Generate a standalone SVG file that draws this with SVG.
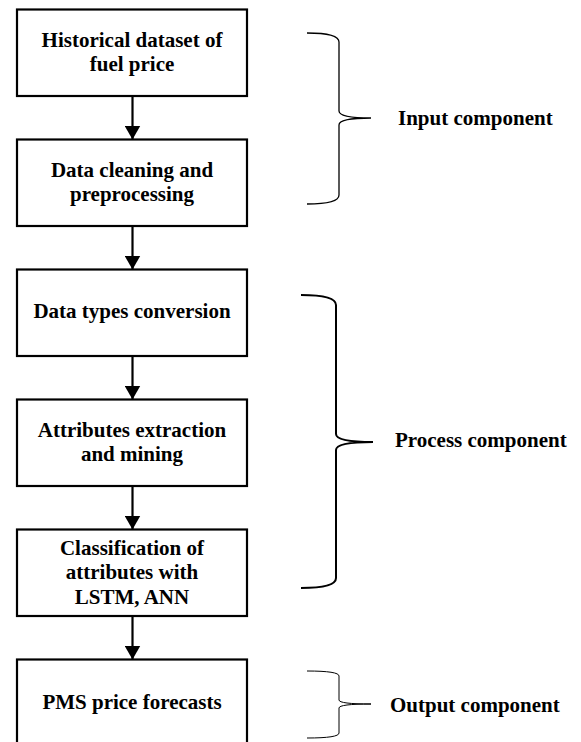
<svg xmlns="http://www.w3.org/2000/svg" width="581" height="742" viewBox="0 0 581 742">
<defs>
<style>
.box{fill:#fff;stroke:#000;stroke-width:2.2}
.t{font-family:"Liberation Serif","Times New Roman",serif;font-weight:bold;font-size:21px;fill:#000}
.c{text-anchor:middle}
.ln{stroke:#000;stroke-width:2.2;fill:none}
.br{fill:none;stroke:#000}
</style>
<marker id="ah" viewBox="0 0 14 16" refX="14" refY="8" markerWidth="14" markerHeight="16" markerUnits="userSpaceOnUse" orient="auto">
<path d="M0,0 L14,8 L0,16 Z" fill="#000"/>
</marker>
</defs>
<rect width="581" height="742" fill="#fff"/>
<g id="connectors">
<line class="ln" x1="132.5" y1="96" x2="132.5" y2="139.5" marker-end="url(#ah)"/>
<line class="ln" x1="132.5" y1="226" x2="132.5" y2="269.5" marker-end="url(#ah)"/>
<line class="ln" x1="132.5" y1="356" x2="132.5" y2="399.5" marker-end="url(#ah)"/>
<line class="ln" x1="132.5" y1="486" x2="132.5" y2="529.5" marker-end="url(#ah)"/>
<line class="ln" x1="132.5" y1="616" x2="132.5" y2="659.5" marker-end="url(#ah)"/>
</g>
<g id="n1">
<rect class="box" x="17" y="9.5" width="230" height="86.5"/>
<text class="t c" x="132" y="47">Historical dataset of</text>
<text class="t c" x="132" y="71">fuel price</text>
</g>
<g id="n2">
<rect class="box" x="17" y="139.5" width="230" height="86.5"/>
<text class="t c" x="132" y="177">Data cleaning and</text>
<text class="t c" x="132" y="200.5">preprocessing</text>
</g>
<g id="n3">
<rect class="box" x="17" y="269.5" width="230" height="86.5"/>
<text class="t c" x="132" y="318">Data types conversion</text>
</g>
<g id="n4">
<rect class="box" x="17" y="399.5" width="230" height="86.5"/>
<text class="t c" x="132" y="437">Attributes extraction</text>
<text class="t c" x="132" y="461">and mining</text>
</g>
<g id="n5">
<rect class="box" x="17" y="529.5" width="230" height="86.5"/>
<text class="t c" x="132" y="555">Classification of</text>
<text class="t c" x="132" y="579">attributes with</text>
<text class="t c" x="132" y="604">LSTM, ANN</text>
</g>
<g id="n6">
<rect class="box" x="17" y="659.5" width="230" height="100"/>
<text class="t c" x="132" y="709">PMS price forecasts</text>
</g>
<g id="input-group">
<path class="br" stroke-width="1.3" d="M307,33 Q339,33 339,42 V111 Q339,118 371,118 Q339,118 339,125 V195 Q339,204 307,204"/>
<text class="t" x="398" y="125">Input component</text>
</g>
<g id="process-group">
<path class="br" stroke-width="2" d="M301,295 Q336,295 336,305 V434 Q336,442 373,442 Q336,442 336,450 V578 Q336,588 301,588"/>
<text class="t" x="395" y="447">Process component</text>
</g>
<g id="output-group">
<path class="br" stroke-width="1" d="M307,671 Q339,671 339,676 V700 Q339,704 371,704 Q339,704 339,708 V733 Q339,738 307,738"/>
<text class="t" x="390" y="712">Output component</text>
</g>
</svg>
